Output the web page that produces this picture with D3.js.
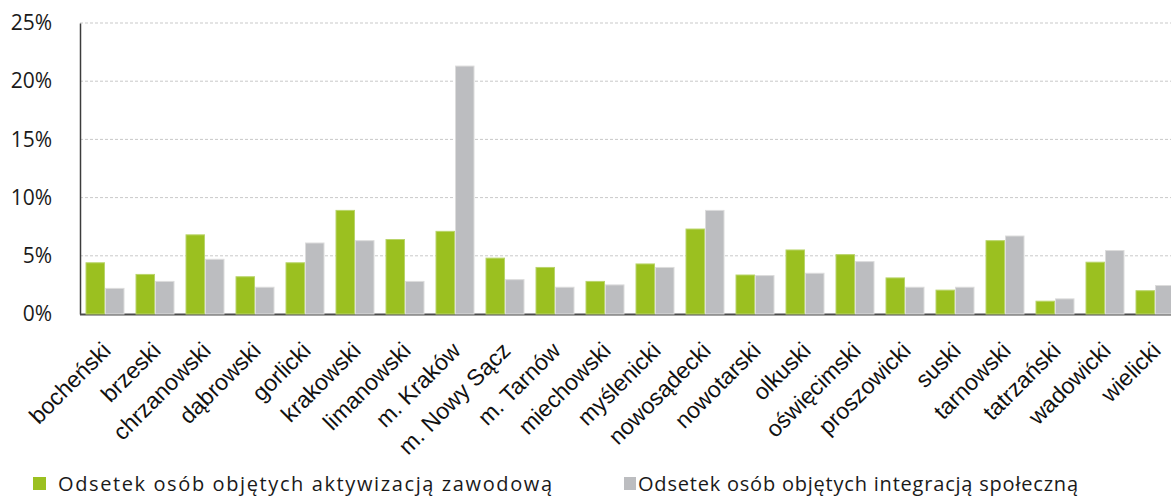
<!DOCTYPE html>
<html>
<head>
<meta charset="utf-8">
<script src="https://cdn.jsdelivr.net/npm/d3@7"></script>
<style>
  body { margin: 0; background: #fff; }
  svg { display: block; }
</style>
</head>
<body>
<svg id="chart" width="1171" height="497"></svg>
<script>
const categories = ['bocheński', 'brzeski', 'chrzanowski', 'dąbrowski', 'gorlicki', 'krakowski',
  'limanowski', 'm. Kraków', 'm. Nowy Sącz', 'm. Tarnów', 'miechowski', 'myślenicki',
  'nowosądecki', 'nowotarski', 'olkuski', 'oświęcimski', 'proszowicki', 'suski',
  'tarnowski', 'tatrzański', 'wadowicki', 'wielicki']

const aktywizacja = [4.4, 3.4, 6.8, 3.2, 4.4, 8.9, 6.4, 7.1, 4.8, 4.0, 2.8, 4.3,
  7.3, 3.35, 5.5, 5.1, 3.1, 2.05, 6.3, 1.1, 4.45, 2.0]
const integracja = [2.2, 2.8, 4.7, 2.3, 6.1, 6.3, 2.8, 21.3, 2.95, 2.3, 2.5, 4.0,
  8.9, 3.3, 3.5, 4.5, 2.3, 2.3, 6.7, 1.3, 5.45, 2.45]

const yTicks = [0, 5, 10, 15, 20, 25]
const seriesNames = ['Odsetek osób objętych aktywizacją zawodową', 'Odsetek osób objętych integracją społeczną']
const seriesColors = ['#9bc020', '#bcbdc0']
const seriesStroke = ['#b9d46a', '#dcdcdc']

const svg = d3.select('#chart')

const x = d3.scaleBand().domain(categories).range([80, 1180]).paddingInner(0.22).paddingOuter(0.11)
const xs = d3.scaleBand().domain([0, 1]).range([0, x.bandwidth()])
const y = d3.scaleLinear().domain([0, 25]).range([314, 23])

// grid
svg.append('g')
  .selectAll('line')
  .data(yTicks.filter(d => d > 0))
  .enter()
  .append('line')
  .attr('x1', 80).attr('x2', 1171)
  .attr('y1', d => y(d)).attr('y2', d => y(d))
  .attr('stroke', '#c9c9c9')
  .attr('stroke-width', 1)
  .attr('stroke-dasharray', '3,2')

// y axis
const yAxis = svg.append('g')
  .attr('transform', 'translate(80,0)')
  .call(d3.axisLeft(y).tickValues(yTicks).tickSize(0).tickPadding(28).tickFormat(d => d + '%'))
yAxis.select('.domain').attr('stroke', '#3c3c3c').attr('stroke-width', 1.5)
yAxis.selectAll('text')
  .attr('font-family', '"Open Sans", sans-serif')
  .attr('font-size', '21px')
  .attr('fill', '#1a1a1a')

// x baseline
svg.append('line')
  .attr('x1', 80).attr('x2', 1171)
  .attr('y1', y(0) + 0.5).attr('y2', y(0) + 0.5)
  .attr('stroke', '#4a4a4a')
  .attr('stroke-width', 2)

// bars
const series = [aktywizacja, integracja]
series.forEach((values, s) => {
  svg.append('g')
    .selectAll('rect')
    .data(values)
    .enter()
    .append('rect')
    .attr('x', (d, i) => x(categories[i]) + xs(s) + 0.5)
    .attr('y', d => y(d))
    .attr('width', xs.bandwidth() - 1)
    .attr('height', d => y(0) - y(d))
    .attr('fill', seriesColors[s])
    .attr('stroke', seriesStroke[s])
    .attr('stroke-width', 1)
})

// x labels
svg.append('g')
  .selectAll('text')
  .data(categories)
  .enter()
  .append('text')
  .attr('transform', d => `translate(${x(d) + x.bandwidth() / 2 + 7},352) rotate(-45)`)
  .attr('text-anchor', 'end')
  .attr('font-family', '"Liberation Sans", Arial, sans-serif')
  .attr('font-size', '23px')
  .attr('fill', '#111')
  .text(d => d)

// legend
const legendX = [33, 624]
const legendLen = [494, 440]
seriesNames.forEach((name, s) => {
  const g = svg.append('g').attr('transform', `translate(${legendX[s]},477)`)
  g.append('rect')
    .attr('width', s === 0 ? 13 : 12)
    .attr('height', 13)
    .attr('fill', seriesColors[s])
  g.append('text')
    .attr('x', s === 0 ? 25 : 14)
    .attr('y', 14)
    .attr('font-family', '"Open Sans", sans-serif')
    .attr('font-size', '20px')
    .attr('fill', '#1a1a1a')
    .attr('textLength', legendLen[s])
    .attr('lengthAdjust', 'spacing')
    .text(name)
})
</script>
</body>
</html>
